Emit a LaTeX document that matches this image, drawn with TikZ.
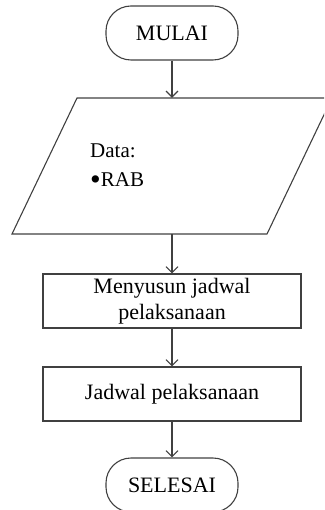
\documentclass[tikz,border=0pt]{standalone}
\usepackage{fontspec}
\setmainfont{Liberation Serif}
\usetikzlibrary{arrows.meta}
\definecolor{linegray}{HTML}{404040}
\newcommand{\bigdot}{\raisebox{-2.5pt}{\scalebox{1.45}{\textbullet}}}
\begin{document}
\begin{tikzpicture}[x=1pt,y=-1pt,
  line/.style={draw=linegray, line width=1.1pt},
  label/.style={font=\fontsize{22}{26}\selectfont, text=black},
  terminal/.style={line, label, rounded corners=25pt, minimum width=132pt,
    minimum height=54pt, inner sep=0pt},
  process/.style={line, label, minimum width=258pt, minimum height=54pt,
    align=center, inner sep=0pt},
  flow/.style={line, -{Straight Barb[length=6pt,width=12pt]}},
]
\useasboundingbox (0,0) rectangle (324,510);
\clip (0,0) rectangle (324,510);

% start terminal
\node[terminal] (start) at (172,33) {MULAI};

% input/output parallelogram (its right corner runs past the page edge)
\node[minimum width=255pt, minimum height=136pt, inner sep=0pt] (data) at (172,166) {};
\coordinate (dbl) at (12,234);
\coordinate (dtl) at (77,98);
\coordinate (dtr) at (332,98);
\coordinate (dbr) at (267,234);
\draw[line, line join=miter] (dbl) -- (dtl) -- (dtr) -- (dbr) -- cycle;
\node[label, anchor=north west, align=left, inner sep=0pt,
  font=\fontsize{21}{29}\selectfont] (datatext) at (90,144) {Data:\\\bigdot RAB};

% processing step and its output
\node[process] (proc) at (172,301) {Menyusun jadwal\\pelaksanaan};
\node[process] (out) at (172,394) {Jadwal pelaksanaan};

% end terminal
\node[terminal] (stop) at (172,485) {SELESAI};

% connectors
\draw[flow] (start) -- (data);
\draw[flow] (data) -- (proc);
\draw[flow] (proc) -- (out);
\draw[flow] (out) -- (stop);
\end{tikzpicture}
\end{document}
